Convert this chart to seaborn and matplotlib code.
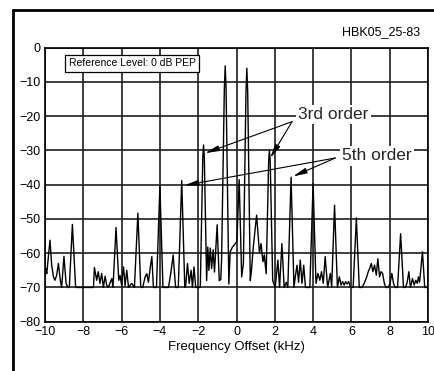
import numpy as np
import pandas as pd
import matplotlib
matplotlib.use("Agg")
import matplotlib.pyplot as plt
from matplotlib.lines import Line2D
import seaborn as sns

# ---- data (frequency offset kHz, level dB) ----
freq = [
    -10.00, -9.95, -9.91, -9.84, -9.74, -9.65, -9.56, -9.48, -9.39, -9.30,
    -9.20, -9.13, -9.01, -8.90, -8.80, -8.73, -8.57, -8.40, -7.47, -7.42,
    -7.30, -7.22, -7.13, -7.04, -6.95, -6.86, -6.78, -6.70, -6.51, -6.45,
    -6.29, -6.15, -6.08, -6.00, -5.90, -5.82, -5.73, -5.64, -5.47, -5.33,
    -5.15, -5.00, -4.90, -4.77, -4.68, -4.60, -4.50, -4.42, -4.34, -4.18,
    -4.00, -3.84, -3.55, -3.41, -3.31, -3.18, -3.04, -2.86, -2.70, -2.65,
    -2.56, -2.47, -2.37, -2.30, -2.22, -2.13, -1.89, -1.76, -1.72, -1.68,
    -1.56, -1.50, -1.44, -1.37, -1.30, -1.22, -1.15, -1.01, -0.90, -0.82,
    -0.78, -0.635, -0.59, -0.545, -0.40, -0.33, -0.22, -0.10, 0.02, 0.14,
    0.27, 0.36, 0.495, 0.54, 0.585, 0.72, 0.78, 0.88, 1.05, 1.20,
    1.28, 1.38, 1.45, 1.55, 1.68, 1.72, 1.76, 1.89, 2.02, 2.16,
    2.25, 2.37, 2.49, 2.60, 2.68, 2.85, 3.00, 3.07, 3.16, 3.24,
    3.33, 3.42, 3.51, 3.60, 3.83, 4.00, 4.15, 4.25, 4.35, 4.44,
    4.53, 4.63, 4.76, 4.90, 4.97, 5.12, 5.27, 5.37, 5.46, 5.54,
    5.62, 5.70, 5.78, 5.86, 5.95, 6.09, 6.26, 6.41, 6.55, 6.67,
    6.80, 6.88, 6.95, 7.04, 7.12, 7.21, 7.30, 7.38, 7.47, 7.55,
    7.63, 7.72, 7.80, 7.92, 8.02, 8.11, 8.20, 8.28, 8.41, 8.57,
    8.72, 8.82, 8.90, 9.00, 9.08, 9.19, 9.28, 9.36, 9.44, 9.50,
    9.56, 9.71, 9.83, 10.00,
]
level = [
    -66.5, -64.5, -66.0, -62.0, -56.2, -63.5, -66.9, -67.9, -66.4, -63.0,
    -67.9, -70.0, -60.9, -68.8, -70.0, -70.0, -51.6, -70.0, -70.0, -64.2,
    -67.9, -65.4, -68.8, -65.9, -70.0, -66.7, -69.3, -70.0, -67.4, -70.0,
    -52.5, -67.9, -66.5, -69.3, -64.0, -69.5, -65.0, -70.0, -68.8, -70.0,
    -48.3, -70.0, -70.0, -66.9, -66.0, -68.5, -64.0, -61.0, -70.0, -70.0,
    -40.5, -70.0, -70.0, -65.0, -60.5, -70.0, -70.0, -38.8, -70.0, -69.3,
    -63.0, -68.8, -65.0, -70.0, -64.0, -70.0, -70.0, -32.0, -28.4, -32.0,
    -68.0, -58.2, -65.0, -58.5, -64.5, -59.0, -65.5, -51.7, -68.0, -67.7,
    -62.0, -12.0, -5.3, -12.0, -69.0, -59.6, -58.3, -57.5, -56.5, -38.5,
    -66.9, -63.0, -13.0, -6.0, -13.0, -68.0, -65.0, -58.0, -48.9, -60.0,
    -57.2, -62.5, -60.5, -66.0, -33.0, -29.8, -33.0, -68.0, -70.0, -62.0,
    -70.0, -57.2, -70.0, -68.5, -70.0, -37.8, -70.0, -66.9, -63.5, -68.5,
    -62.0, -68.8, -63.5, -70.0, -70.0, -39.6, -68.8, -65.9, -67.9, -65.4,
    -68.8, -61.0, -70.0, -65.9, -70.0, -46.0, -70.0, -66.9, -69.3, -68.3,
    -69.3, -68.3, -69.0, -68.3, -70.0, -70.0, -49.7, -70.0, -70.0, -68.8,
    -66.9, -65.4, -64.5, -63.0, -65.4, -63.5, -66.4, -61.6, -66.9, -65.4,
    -65.9, -68.8, -70.0, -70.0, -68.8, -65.9, -68.8, -70.0, -70.0, -54.3,
    -70.0, -70.0, -68.8, -65.4, -70.0, -67.4, -69.3, -67.9, -68.8, -66.9,
    -68.5, -59.6, -70.0, -70.0,
]
xticks = [-10, -8, -6, -4, -2, 0, 2, 4, 6, 8, 10]
yticks = [-80, -70, -60, -50, -40, -30, -20, -10, 0]
xlabel = "Frequency Offset (kHz)"
ref_text = "Reference Level: 0 dB PEP"
fig_id = "HBK05_25-83"
label3 = "3rd order"
label5 = "5th order"

df = pd.DataFrame({"freq": freq, "level": level})

sns.set_theme(style="white")
plt.rcParams["font.family"] = ["Liberation Sans", "DejaVu Sans"]
plt.rcParams["axes.unicode_minus"] = True

fig = plt.figure(figsize=(4.34, 3.71), dpi=100)
fig.patch.set_facecolor("white")
W, H = 434.0, 371.0
ax = fig.add_axes([45 / W, 1 - 321.7 / H, 383 / W, 274 / H])
ax.set_facecolor("white")

sns.lineplot(data=df, x="freq", y="level", estimator=None, sort=False,
             color="black", linewidth=1.0, ax=ax)

ax.set_xlim(-10, 10)
ax.set_ylim(-80, 0)
ax.set_xticks(xticks)
ax.set_yticks(yticks)
ax.grid(True, color="#1e1e1e", linewidth=1.2)
ax.set_axisbelow(True)
for s in ax.spines.values():
    s.set_color("black")
    s.set_linewidth(1.2)
ax.tick_params(length=0, pad=3, labelsize=9, colors="black")
ax.set_xlabel(xlabel, fontsize=9.5, labelpad=2, color="black")
ax.set_ylabel("")

# reference level box
ax.text(0.227, 0.943, ref_text, transform=ax.transAxes, ha="center", va="center",
        fontsize=7.5, color="black", zorder=5,
        bbox=dict(boxstyle="square,pad=0.35", fc="white", ec="black", lw=0.9))

# order labels with arrows
arrow_kw = dict(arrowstyle="-|>,head_length=0.7,head_width=0.14", color="black",
                lw=0.8, shrinkA=0, shrinkB=0)
for tip in [(-1.64, -30.8), (1.76, -32.2)]:
    ax.annotate("", xy=tip, xytext=(2.9, -21.6), arrowprops=arrow_kw, zorder=6)
for tip in [(-2.72, -40.2), (2.95, -37.6)]:
    ax.annotate("", xy=tip, xytext=(5.16, -32.2), arrowprops=arrow_kw, zorder=6)
ax.text(5.06, -19.6, label3, ha="center", va="center", fontsize=12.5, zorder=7,
        bbox=dict(boxstyle="square,pad=0.12", fc="white", ec="none"))
ax.text(7.34, -31.6, label5, ha="center", va="center", fontsize=12.5, zorder=7,
        bbox=dict(boxstyle="square,pad=0.12", fc="white", ec="none"))

# figure id and outer frame
fig.text(381 / W, 1 - 32.5 / H, fig_id, ha="center", va="center", fontsize=9, color="black")
fig.add_artist(Line2D([13 / W, 13 / W], [0, 1 - 10 / H], transform=fig.transFigure,
                      color="black", lw=2))
fig.add_artist(Line2D([13 / W, 1], [1 - 10 / H, 1 - 10 / H], transform=fig.transFigure,
                      color="black", lw=2))

fig.savefig("out.png", dpi=100, facecolor="white")
